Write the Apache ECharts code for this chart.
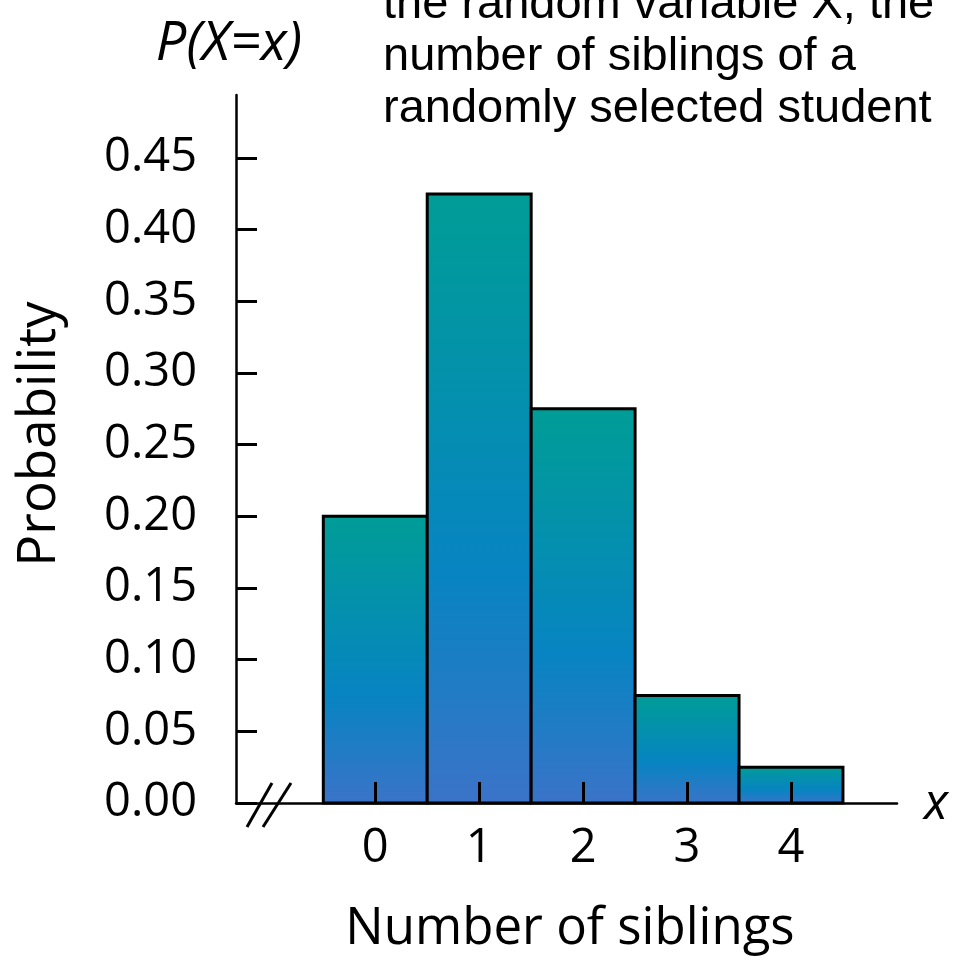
<!DOCTYPE html>
<html><head><meta charset="utf-8">
<script src="https://cdn.jsdelivr.net/npm/echarts@6/dist/echarts.min.js"></script>
<style>html,body{margin:0;padding:0;background:#fff}#c{width:957px;height:962px}</style>
</head><body><div id="c"></div>
<script>
// ---- data ----
const siblings = [0, 1, 2, 3, 4];
const probabilities = [0.20, 0.425, 0.275, 0.075, 0.025];
const yTicks = [0, 0.05, 0.10, 0.15, 0.20, 0.25, 0.30, 0.35, 0.40, 0.45];
const xTicks = [0, 1, 2, 3, 4];
const noteLines = ['the random variable X, the', 'number of siblings of a', 'randomly selected student'];
const yAxisTitle = 'Probability';
const xAxisTitle = 'Number of siblings';
const yAxisSymbol = 'P(X=x)';
const xAxisSymbol = 'x';

// ---- chart ----
const chart = echarts.init(document.getElementById('c'), null, { renderer: 'canvas' });
const FONT = '"Open Sans", "Noto Sans", sans-serif';
const X_MIN = -1.34, X_MAX = 5.02, Y_MAX = 0.494;

function barFill() {
  return new echarts.graphic.LinearGradient(0, 0, 0, 1, [
    { offset: 0, color: '#009d96' },
    { offset: 0.62, color: '#0784c2' },
    { offset: 1, color: '#3b73c8' }
  ]);
}

const seriesData = siblings.map((s, i) => [s, probabilities[i]]);

const option = {
  backgroundColor: '#ffffff',
  animation: false,
  grid: { left: 236, right: 60, top: 95, bottom: 159 },
  xAxis: {
    type: 'value', min: X_MIN, max: X_MAX, z: 5,
    splitLine: { show: false },
    axisLine: { show: true, onZero: false, lineStyle: { color: '#000', width: 2.5 } },
    axisTick: { show: true, inside: true, length: 21, customValues: xTicks, lineStyle: { color: '#000', width: 3 } },
    axisLabel: { show: true, customValues: xTicks, margin: 22, color: '#000', fontSize: 47, fontFamily: FONT,
      formatter: v => String(v) }
  },
  yAxis: {
    type: 'value', min: 0, max: Y_MAX,
    splitLine: { show: false },
    axisLine: { show: true, onZero: false, lineStyle: { color: '#000', width: 2.5 } },
    axisTick: { show: true, inside: true, length: 21, customValues: yTicks, lineStyle: { color: '#000', width: 3 } },
    axisLabel: { show: true, customValues: yTicks, margin: 39, color: '#000', fontSize: 47, fontFamily: FONT,
      formatter: v => v.toFixed(2) }
  },
  series: [{
    type: 'custom',
    data: seriesData,
    z: 2,
    renderItem: function (params, api) {
      const x = api.value(0), y = api.value(1);
      const p0 = api.coord([x - 0.5, y]);
      const p1 = api.coord([x + 0.5, 0]);
      return {
        type: 'rect',
        shape: { x: p0[0], y: p0[1], width: p1[0] - p0[0], height: p1[1] - p0[1] },
        style: { fill: barFill(), stroke: '#000', lineWidth: 3 }
      };
    }
  }],
  graphic: [
    { type: 'text', left: 383, top: -21, style: { text: noteLines.join('\n'), fontSize: 47, lineHeight: 52,
        fontFamily: '"Liberation Sans", Arial, sans-serif', fill: '#000' } },
    { type: 'text', x: 229, y: 45, style: { text: yAxisSymbol, fontSize: 54, fontStyle: 'italic',
        fontFamily: FONT, fill: '#000', align: 'center', verticalAlign: 'middle' } },
    { type: 'text', x: 936, y: 805, style: { text: xAxisSymbol, fontSize: 50, fontStyle: 'italic',
        fontFamily: FONT, fill: '#000', align: 'center', verticalAlign: 'middle' } },
    { type: 'text', x: 570, y: 929, style: { text: xAxisTitle, fontSize: 51,
        fontFamily: FONT, fill: '#000', align: 'center', verticalAlign: 'middle' } },
    { type: 'text', x: 40, y: 434, rotation: Math.PI / 2, style: { text: yAxisTitle, fontSize: 53,
        fontFamily: FONT, fill: '#000', align: 'center', verticalAlign: 'middle' } }
  ]
};
chart.setOption(option);

// axis break marks, placed relative to the axis origin
const ox = chart.convertToPixel({ xAxisIndex: 0 }, X_MIN);
const oy = chart.convertToPixel({ yAxisIndex: 0 }, 0);
const brk = [[11, 24, 36, -20], [27, 24, 55, -20]];
chart.setOption({
  graphic: option.graphic.concat(brk.map(b => ({
    type: 'line', z: 10,
    shape: { x1: ox + b[0], y1: oy + b[1], x2: ox + b[2], y2: oy + b[3] },
    style: { stroke: '#000', lineWidth: 3 }
  })))
});
</script>
</body></html>
